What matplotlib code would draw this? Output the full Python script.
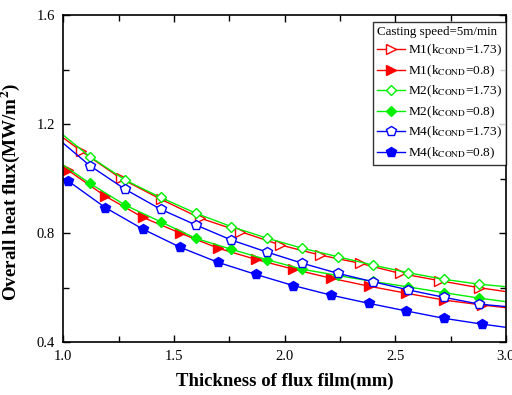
import matplotlib
matplotlib.use("Agg")
import matplotlib.pyplot as plt
from matplotlib.ticker import MultipleLocator

plt.rcParams["font.family"] = ["Liberation Serif", "DejaVu Serif"]
plt.rcParams["mathtext.fontset"] = "stix"

# 마커 위치 (x) - 그룹별
X_A = [1.0, 1.02, 1.19, 1.36, 1.53, 1.70, 1.87, 2.04, 2.21, 2.38, 2.55, 2.72, 2.89, 3.0]
X_B = [1.0, 1.12, 1.28, 1.44, 1.60, 1.76, 1.92, 2.08, 2.24, 2.40, 2.56, 2.72, 2.88, 3.0]
X_C = [1.0, 1.08, 1.26, 1.44, 1.62, 1.80, 1.98, 2.16, 2.34, 2.52, 2.70, 2.88, 3.0]

# heat flux (MW/m2)
M1_173 = [1.150, 1.102, 1.001, 0.925, 0.855, 0.806, 0.757, 0.720, 0.690, 0.653, 0.626, 0.600, 0.586]
M1_08 = [1.048, 1.032, 0.936, 0.858, 0.800, 0.745, 0.704, 0.668, 0.635, 0.606, 0.580, 0.555, 0.537, 0.527]
M2_173 = [1.160, 1.081, 0.995, 0.931, 0.873, 0.824, 0.782, 0.745, 0.714, 0.683, 0.655, 0.631, 0.613, 0.604]
M2_08 = [1.050, 0.983, 0.903, 0.842, 0.781, 0.741, 0.703, 0.668, 0.645, 0.623, 0.603, 0.582, 0.562, 0.549]
M4_173 = [1.130, 1.048, 0.961, 0.888, 0.830, 0.775, 0.731, 0.690, 0.653, 0.622, 0.592, 0.565, 0.540, 0.531]
M4_08 = [1.002, 0.993, 0.894, 0.815, 0.748, 0.693, 0.649, 0.608, 0.573, 0.543, 0.515, 0.488, 0.467, 0.455]

LABELS = [
    r"M1(k$_{\mathrm{COND}}$=1.73)",
    r"M1(k$_{\mathrm{COND}}$=0.8)",
    r"M2(k$_{\mathrm{COND}}$=1.73)",
    r"M2(k$_{\mathrm{COND}}$=0.8)",
    r"M4(k$_{\mathrm{COND}}$=1.73)",
    r"M4(k$_{\mathrm{COND}}$=0.8)",
]

GREEN = "#00f000"


def main():
    fig = plt.figure(figsize=(5.12, 3.95), dpi=100)
    ax = fig.add_axes([0.1234, 0.1334, 0.8646, 0.8286])

    series = [
        (X_C, M1_173, "red", ">", "white", 6.5),
        (X_A, M1_08, "red", ">", "red", 6.5),
        (X_B, M2_173, GREEN, "D", "white", 5.5),
        (X_B, M2_08, GREEN, "D", GREEN, 5.5),
        (X_B, M4_173, "blue", "p", "white", 7),
        (X_A, M4_08, "blue", "p", "blue", 7),
    ]
    for (x, y, c, m, fc, ms), lab in zip(series, LABELS):
        ax.plot(x, y, color=c, lw=1.0, marker=m, mfc=fc, mec=c, ms=ms,
                mew=1.0, markevery=slice(1, -1), label=lab)

    ax.set_xlim(1.0, 3.0)
    ax.set_ylim(0.4, 1.6)
    ax.xaxis.set_major_locator(MultipleLocator(0.5))
    ax.xaxis.set_minor_locator(MultipleLocator(0.25))
    ax.yaxis.set_major_locator(MultipleLocator(0.4))
    ax.yaxis.set_minor_locator(MultipleLocator(0.2))
    ax.xaxis.set_major_formatter(plt.FormatStrFormatter("%.1f"))
    ax.yaxis.set_major_formatter(plt.FormatStrFormatter("%.1f"))
    ax.tick_params(which="both", direction="in", top=True, right=True, labelsize=10.5)
    ax.tick_params(which="major", length=5, width=1.0)
    ax.tick_params(which="minor", length=4, width=1.0)
    ax.tick_params(axis="x", which="major", pad=5.5)
    ax.tick_params(axis="y", which="major", pad=6)
    for s in ax.spines.values():
        s.set_linewidth(1.2)

    ax.set_xlabel("Thickness of flux film(mm)", fontsize=13.5, fontweight="bold", labelpad=7)
    ax.set_ylabel(r"Overall heat flux(MW/m$^\mathbf{2}$)", fontsize=13.8, fontweight="bold")
    ax.yaxis.set_label_coords(-0.093, 0.461)

    leg = ax.legend(loc="upper right", bbox_to_anchor=(1.0, 0.979), fontsize=9.6,
                    title="Casting speed=5m/min", title_fontsize=9.4,
                    frameon=True, fancybox=False, edgecolor="black",
                    handlelength=2.1, handletextpad=0.2, labelspacing=0.38,
                    borderpad=0.3, borderaxespad=0.0, numpoints=1)
    leg.get_frame().set_linewidth(1.0)
    leg._legend_box.align = "left"

    fig.savefig("out.png", dpi=100)
    plt.close(fig)


if __name__ == "__main__":
    main()
